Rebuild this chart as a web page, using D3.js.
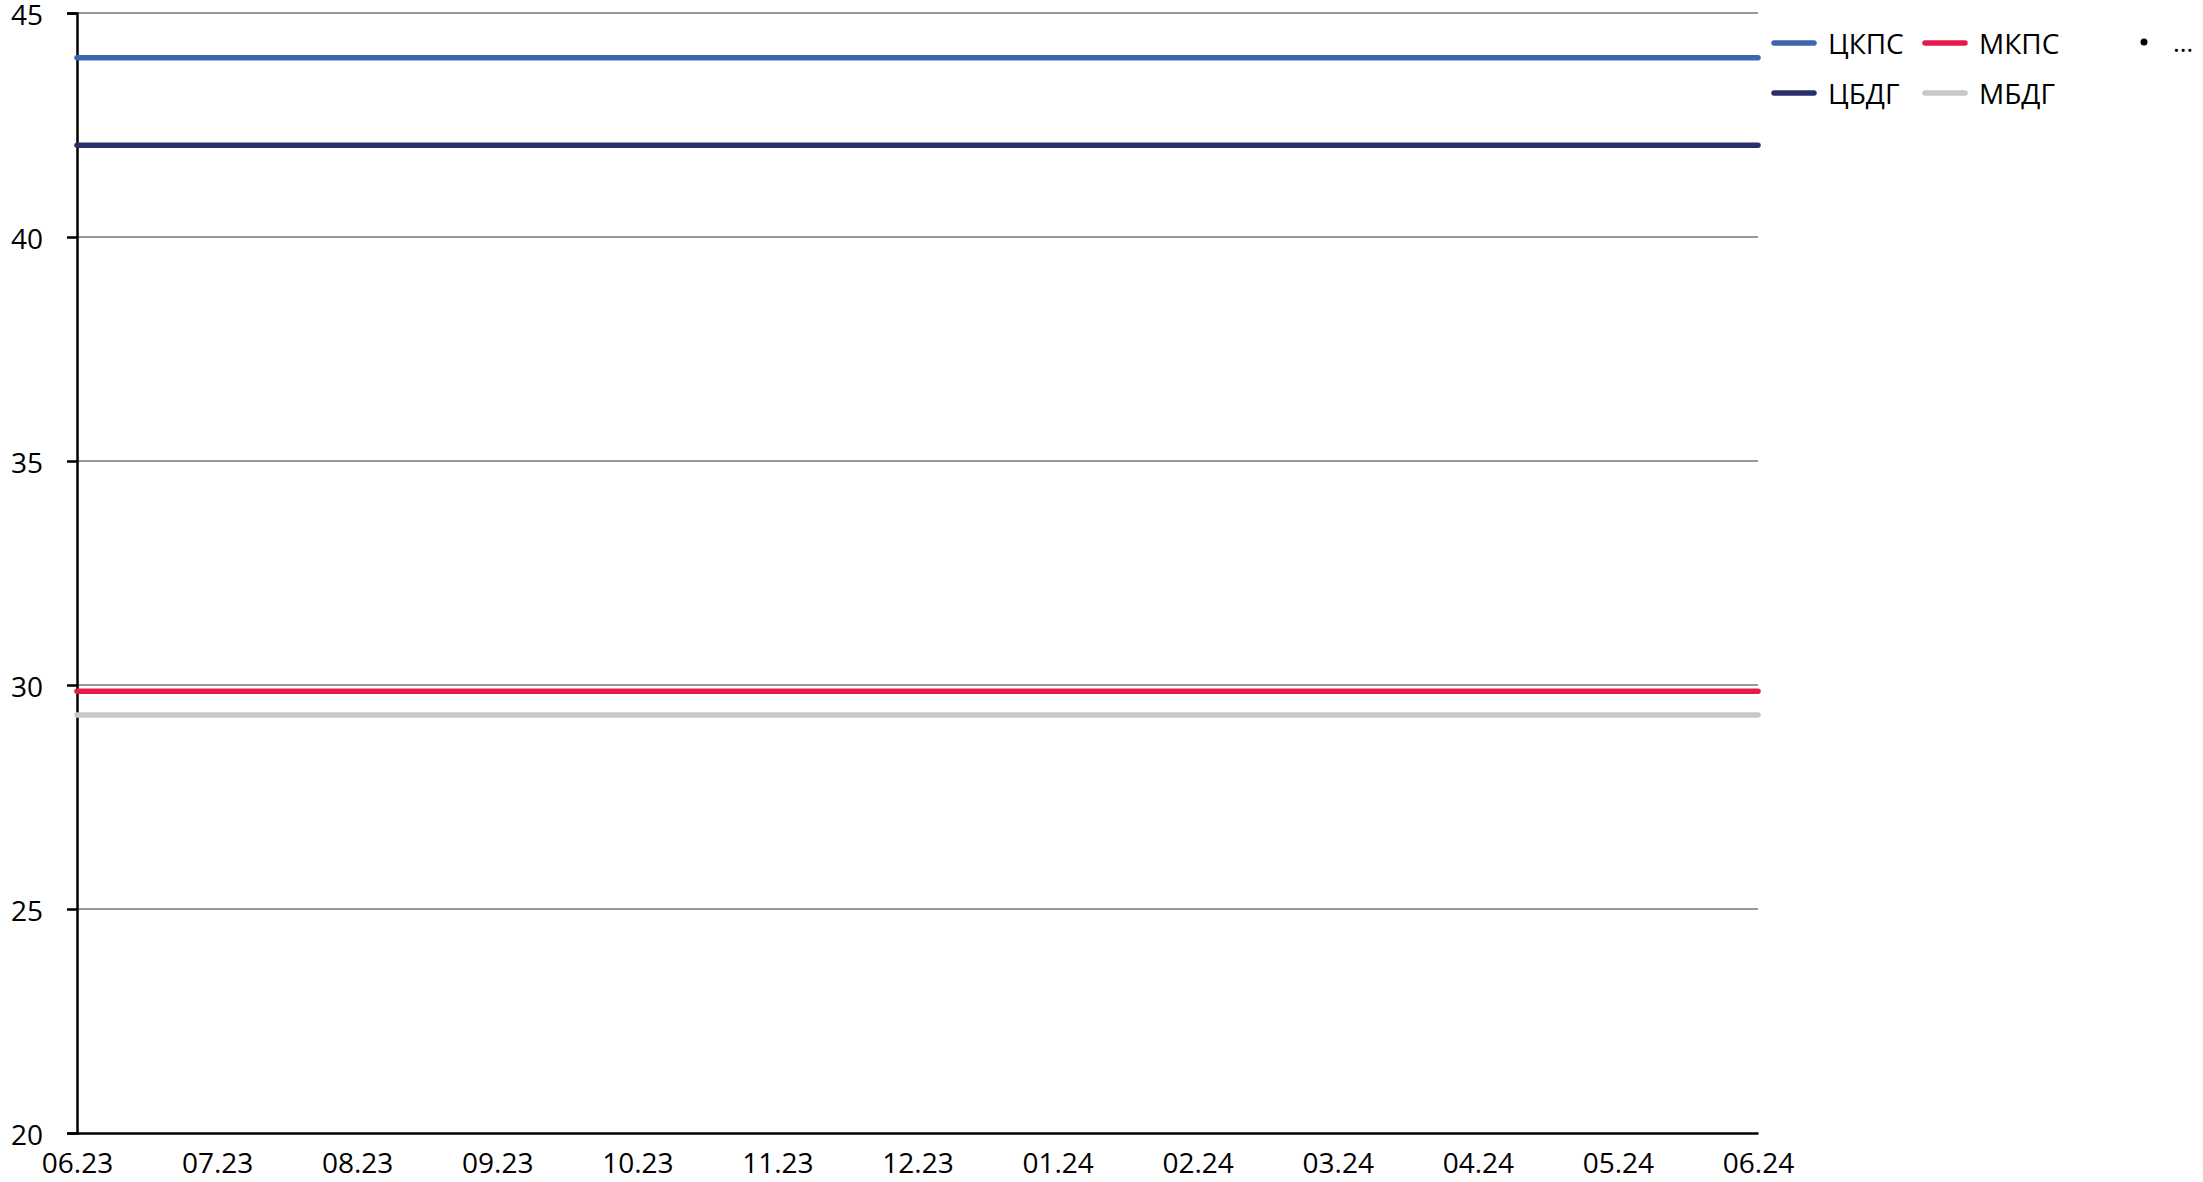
<!DOCTYPE html>
<html>
<head>
<meta charset="utf-8">
<script src="https://cdn.jsdelivr.net/npm/d3@7"></script>
<style>
  html, body { margin: 0; padding: 0; background: #fff; }
  svg { display: block; }
  text { font-family: "Open Sans", sans-serif; fill: #000; }
</style>
</head>
<body>
<svg id="chart" width="2203" height="1182"></svg>
<script>
// Monthly labels on the horizontal axis
const months = ["06.23","07.23","08.23","09.23","10.23","11.23","12.23",
                "01.24","02.24","03.24","04.24","05.24","06.24"];

// Series values per month
const ckps = [44.0,44.0,44.0,44.0,44.0,44.0,44.0,44.0,44.0,44.0,44.0,44.0,44.0];
const cbdg = [42.05,42.05,42.05,42.05,42.05,42.05,42.05,42.05,42.05,42.05,42.05,42.05,42.05];
const mkps = [29.86,29.86,29.86,29.86,29.86,29.86,29.86,29.86,29.86,29.86,29.86,29.86,29.86];
const mbdg = [29.33,29.33,29.33,29.33,29.33,29.33,29.33,29.33,29.33,29.33,29.33,29.33,29.33];

// Y-axis tick values
const yTicks = [20, 25, 30, 35, 40, 45];

const seriesColors = {"ЦКПС": "#3d66b0", "МКПС": "#e81a4b", "ЦБДГ": "#283069", "МБДГ": "#c8c8c8"};
const seriesData = {"ЦКПС": ckps, "МКПС": mkps, "ЦБДГ": cbdg, "МБДГ": mbdg};

const svg = d3.select("#chart");
const plotLeft = 77, plotRight = 1758, plotTop = 13, plotBottom = 1133;
const fontSize = 28;

const x = d3.scalePoint().domain(months).range([plotLeft, plotRight]);
const y = d3.scaleLinear().domain([20, 45]).range([plotBottom, plotTop]);

// Horizontal gridlines
svg.append("g")
  .selectAll("line")
  .data(yTicks.filter(d => d > 20))
  .join("line")
  .attr("x1", plotLeft).attr("x2", plotRight)
  .attr("y1", d => y(d)).attr("y2", d => y(d))
  .attr("stroke", "#747474")
  .attr("stroke-width", 1.5);

// Y axis
const yAxis = svg.append("g")
  .attr("transform", `translate(${plotLeft},0)`)
  .call(d3.axisLeft(y).tickValues(yTicks).tickSize(10).tickPadding(24).tickFormat(d3.format("d")));
yAxis.attr("font-family", null).attr("font-size", null);
yAxis.select(".domain").attr("stroke", "#000").attr("stroke-width", 2.5);
yAxis.selectAll(".tick line").attr("stroke", "#000").attr("stroke-width", 2.5);
yAxis.selectAll(".tick text")
  .attr("font-family", "Open Sans")
  .attr("font-size", fontSize)
  .attr("fill", "#000")
  .attr("dy", "0.4em");

// X axis
const xAxis = svg.append("g")
  .attr("transform", `translate(0,${plotBottom})`)
  .call(d3.axisBottom(x).tickSize(0).tickPadding(20));
xAxis.attr("font-family", null).attr("font-size", null);
xAxis.select(".domain").attr("stroke", "#000").attr("stroke-width", 2.5);
xAxis.selectAll(".tick text")
  .attr("font-family", "Open Sans")
  .attr("font-size", fontSize)
  .attr("fill", "#000")
  .attr("dy", "0.71em");

// Series lines
const line = d3.line()
  .x((d, i) => x(months[i]))
  .y(d => y(d));

["МБДГ", "МКПС", "ЦБДГ", "ЦКПС"].forEach(name => {
  svg.append("path")
    .datum(seriesData[name])
    .attr("d", line)
    .attr("fill", "none")
    .attr("stroke", seriesColors[name])
    .attr("stroke-width", 5.5)
    .attr("stroke-linecap", "round");
});

// Legend
const legendItems = [
  {name: "ЦКПС", lx: 1774, ly: 43},
  {name: "МКПС", lx: 1925, ly: 43},
  {name: "ЦБДГ", lx: 1774, ly: 93},
  {name: "МБДГ", lx: 1925, ly: 93}
];
const legend = svg.append("g");
legendItems.forEach(it => {
  legend.append("line")
    .attr("x1", it.lx).attr("x2", it.lx + 40)
    .attr("y1", it.ly).attr("y2", it.ly)
    .attr("stroke", seriesColors[it.name])
    .attr("stroke-width", 5.5)
    .attr("stroke-linecap", "round");
  legend.append("text")
    .attr("x", it.lx + 54)
    .attr("y", it.ly + 11)
    .attr("font-size", fontSize)
    .text(it.name);
});
legend.append("circle").attr("cx", 2144).attr("cy", 42).attr("r", 3.5).attr("fill", "#000");
legend.append("text").attr("x", 2173).attr("y", 52).attr("font-size", 26).text("…");
</script>
</body>
</html>
